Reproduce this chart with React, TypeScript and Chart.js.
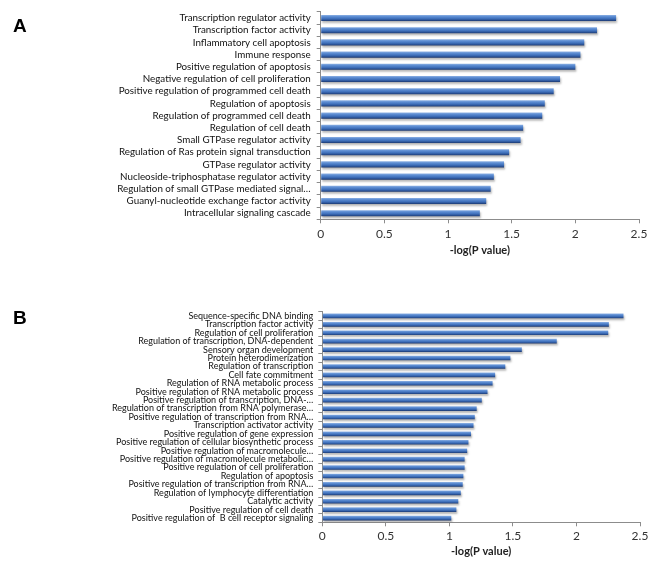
import React, { useEffect, useRef } from "react";
import { Chart, registerables } from "chart.js";

Chart.register(...registerables);

const labelsA = [
  "Transcription regulator activity",
  "Transcription factor activity",
  "Inflammatory cell apoptosis",
  "Immune response",
  "Positive regulation of apoptosis",
  "Negative regulation of cell proliferation",
  "Positive regulation of programmed cell death",
  "Regulation of apoptosis",
  "Regulation of programmed cell death",
  "Regulation of cell death",
  "Small GTPase regulator activity",
  "Regulation of Ras protein signal transduction",
  "GTPase regulator activity",
  "Nucleoside-triphosphatase regulator activity",
  "Regulation of small GTPase mediated signal…",
  "Guanyl-nucleotide exchange factor activity",
  "Intracellular signaling cascade",
];
const valuesA = [2.32, 2.17, 2.07, 2.04, 2.0, 1.88, 1.83, 1.76, 1.74, 1.59, 1.57, 1.48, 1.44, 1.36, 1.335, 1.3, 1.25];

const labelsB = [
  "Sequence-specific DNA binding",
  "Transcription factor activity",
  "Regulation of cell proliferation",
  "Regulation of transcription, DNA-dependent",
  "Sensory organ development",
  "Protein heterodimerization",
  "Regulation of transcription",
  "Cell fate commitment",
  "Regulation of RNA metabolic process",
  "Positive regulation of RNA metabolic process",
  "Positive regulation of transcription, DNA-…",
  "Regulation of transcription from RNA polymerase…",
  "Positive regulation of transcription from RNA…",
  "Transcription activator activity",
  "Positive regulation of gene expression",
  "Positive regulation of cellular biosynthetic process",
  "Positive regulation of macromolecule…",
  "Positive regulation of macromolecule metabolic…",
  "Positive regulation of cell proliferation",
  "Regulation of apoptosis",
  "Positive regulation of transcription from RNA…",
  "Regulation of lymphocyte differentiation",
  "Catalytic activity",
  "Positive regulation of cell death",
  "Positive regulation of  B cell receptor signaling",
];
const valuesB = [2.37, 2.255, 2.25, 1.845, 1.57, 1.48, 1.44, 1.36, 1.34, 1.3, 1.255, 1.215, 1.2, 1.19, 1.17, 1.15, 1.14, 1.12, 1.12, 1.11, 1.105, 1.09, 1.07, 1.055, 1.015];

const xTickValues = [0, 0.5, 1, 1.5, 2, 2.5];
const xTitle = "-log(P value)";

const FONT = "Lato, 'Open Sans', sans-serif";
const AXIS_GRAY = "#8c8c8c";

type PanelOpts = {
  labels: string[];
  values: number[];
  height: number;
  padTop: number;
  padRight: number;
  yWidth: number;
  xHeight: number;
  yFontSize: number;
  yPad: number;
  barFrac: number;
  xTickPad: number;
  titlePadBottom: number;
};

function makeGradient(ctx: any, frac: number) {
  const chart = ctx.chart;
  const y = chart.scales && chart.scales.y;
  const area = chart.chartArea;
  if (!y || !area || ctx.dataIndex === undefined) return "#4a7ebb";
  const n = chart.data.labels.length;
  const c = y.getPixelForValue(ctx.dataIndex);
  const half = ((area.height / n) * frac) / 2;
  const g = chart.ctx.createLinearGradient(0, c - half, 0, c + half);
  g.addColorStop(0, "#8fb2e4");
  g.addColorStop(0.25, "#5f8fd4");
  g.addColorStop(0.6, "#3f70bb");
  g.addColorStop(0.85, "#2a5194");
  g.addColorStop(1, "#19346a");
  return g;
}

const shadowPlugin = {
  id: "barShadow",
  beforeDatasetsDraw(chart: any) {
    const c = chart.ctx;
    c.save();
    c.shadowColor = "rgba(0,0,0,0.28)";
    c.shadowBlur = 2;
    c.shadowOffsetX = 1;
    c.shadowOffsetY = 2;
  },
  afterDatasetsDraw(chart: any) {
    chart.ctx.restore();
  },
};

function Panel(p: PanelOpts) {
  const ref = useRef<HTMLCanvasElement>(null);
  useEffect(() => {
    if (!ref.current) return;
    const chart = new Chart(ref.current, {
      type: "bar",
      data: {
        labels: p.labels,
        datasets: [
          {
            data: p.values,
            backgroundColor: (ctx: any) => makeGradient(ctx, p.barFrac),
            borderWidth: 0,
            barPercentage: p.barFrac,
            categoryPercentage: 1,
          },
        ],
      },
      plugins: [shadowPlugin],
      options: {
        indexAxis: "y",
        animation: false,
        responsive: false,
        devicePixelRatio: 1,
        layout: { padding: { top: p.padTop, right: p.padRight, left: 0, bottom: 0 } },
        plugins: { legend: { display: false }, tooltip: { enabled: false }, title: { display: false } },
        scales: {
          x: {
            type: "linear",
            min: 0,
            max: 2.5,
            afterBuildTicks: (s: any) => {
              s.ticks = xTickValues.map((v) => ({ value: v }));
            },
            afterFit: (s: any) => {
              s.height = p.xHeight;
            },
            grid: { drawOnChartArea: false, drawTicks: true, tickLength: 4, color: AXIS_GRAY },
            border: { color: AXIS_GRAY, width: 1 },
            ticks: {
              color: "#333",
              font: { family: FONT, size: 12 },
              padding: p.xTickPad,
              maxRotation: 0,
              callback: (v: any) => String(v),
            },
            title: {
              display: true,
              text: xTitle,
              color: "#222",
              font: { family: FONT, size: 11, weight: "bold" },
              padding: { top: 0, bottom: p.titlePadBottom },
            },
          },
          y: {
            type: "category",
            afterFit: (s: any) => {
              s.width = p.yWidth;
            },
            grid: { drawOnChartArea: false, drawTicks: true, tickLength: 4, color: AXIS_GRAY, offset: true },
            border: { color: AXIS_GRAY, width: 1 },
            ticks: {
              color: "#111",
              font: { family: FONT, size: p.yFontSize },
              padding: p.yPad,
              autoSkip: false,
            },
          },
        },
      },
    } as any);
    return () => chart.destroy();
  }, []);
  return <canvas ref={ref} width={654} height={p.height} style={{ width: 654, height: p.height, display: "block" }} />;
}

const letterStyle: React.CSSProperties = {
  position: "absolute",
  left: 13,
  fontFamily: "'Liberation Sans', Arial, sans-serif",
  fontWeight: "bold",
  fontSize: 19,
  lineHeight: "19px",
  color: "#000",
};

export default function App() {
  return (
    <div style={{ position: "absolute", left: 0, top: 0, width: 654, height: 563, background: "#fff", overflow: "hidden" }}>
      <div style={{ position: "absolute", left: 0, top: 0 }}>
        <Panel
          labels={labelsA}
          values={valuesA}
          height={262}
          padTop={8}
          padRight={15}
          yWidth={320.7}
          xHeight={42.7}
          yFontSize={9.8}
          yPad={6}
          barFrac={0.5}
          xTickPad={4}
          titlePadBottom={5}
        />
      </div>
      <div style={{ position: "absolute", left: 0, top: 290 }}>
        <Panel
          labels={labelsB}
          values={valuesB}
          height={270}
          padTop={21.7}
          padRight={14}
          yWidth={322.3}
          xHeight={37.7}
          yFontSize={9}
          yPad={5}
          barFrac={0.55}
          xTickPad={3}
          titlePadBottom={2}
        />
      </div>
      <div style={{ ...letterStyle, top: 15.5 }}>A</div>
      <div style={{ ...letterStyle, top: 307.5 }}>B</div>
    </div>
  );
}
